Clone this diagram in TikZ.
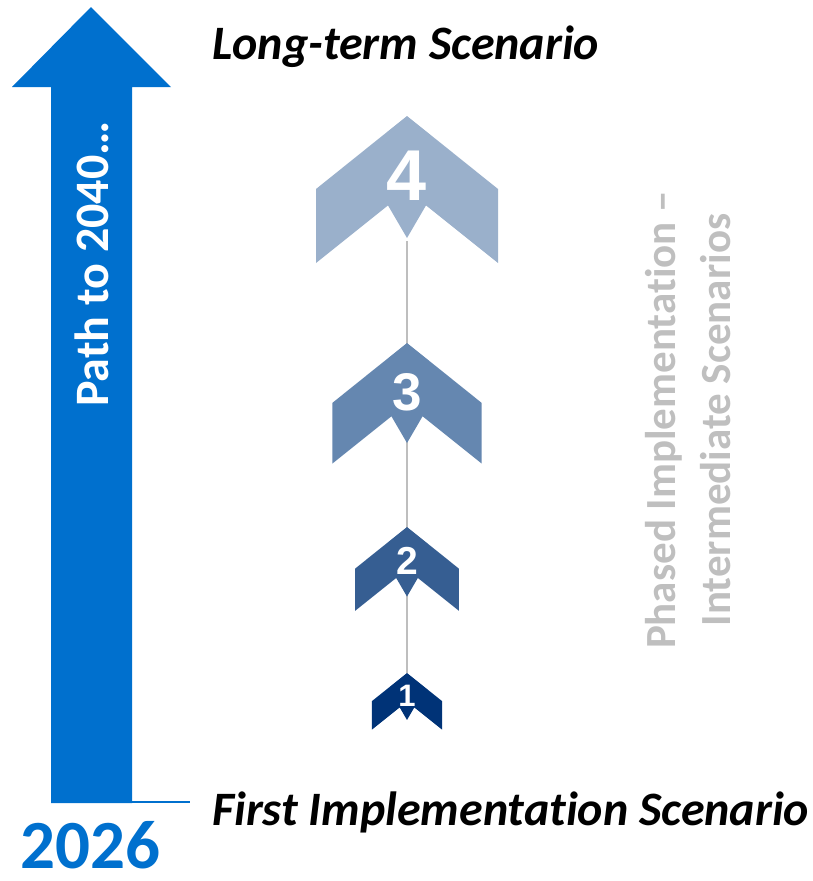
\documentclass[tikz,border=0pt]{standalone}
\usepackage{fontspec}
\setmainfont[Ligatures=NoCommon, RawFeature={-calt}]{Carlito}
\newfontfamily\numfont{Liberation Sans}

\definecolor{pathblue}{RGB}{0,112,206}
\definecolor{chevA}{RGB}{154,176,203}
\definecolor{chevB}{RGB}{101,135,176}
\definecolor{chevC}{RGB}{54,94,146}
\definecolor{chevD}{RGB}{0,51,119}
\definecolor{linegray}{RGB}{190,190,190}
\definecolor{textgray}{RGB}{191,191,191}

\tikzset{
  scenario/.style={inner sep=0pt, font=\fontsize{48}{48}\selectfont\bfseries\itshape},
  chevnum/.style={inner sep=0pt, text=white}
}

\begin{document}
\begin{tikzpicture}[x=1pt, y=-1pt]
 \useasboundingbox (0,0) rectangle (812,881);

 % big arrow on the left
 \fill[pathblue] (91,7)--(171,87)--(132,87)--(132,803)--(51,803)--(51,87)--(12,87)--cycle;
 \coordinate (foot) at (132,802);
 \coordinate (footend) at (190,802);
 \draw[pathblue, line width=1.5pt] (foot)--(footend);
 \node[rotate=90, inner sep=0pt, text=white, font=\fontsize{48}{48}\selectfont\bfseries] (path) at (92,264) {Path to 2040…};
 \node[inner sep=0pt, anchor=base, text=pathblue, font=\fontsize{69}{69}\selectfont\bfseries] (year) at (90,868) {2026};

 % scenario labels
 \node[scenario, anchor=base west] (longterm) at (212,59) {Long-term Scenario};
 \node[scenario, anchor=base west] (first) at (212,825) {First Implementation Scenario};

 % gray spine behind the chevrons
 \coordinate (spinetop) at (407,241);
 \coordinate (spinebot) at (407,673);
 \draw[linegray, line width=2pt] (spinetop)--(spinebot);

 % chevrons
 \foreach \n/\ty/\s/\col/\fs in {4/116/1/chevA/72, 3/343/0.82/chevB/53, 2/527/0.57/chevC/39, 1/673/0.385/chevD/31}{
   \begin{scope}[shift={(407,\ty)}, scale=\s]
     \fill[\col] (0,0)--(91,73)--(91,147)--(19,89.4)--(0,122)--(-19,89.4)--(-91,147)--(-91,73)--cycle;
   \end{scope}
   \node[chevnum, font=\fontsize{\fs}{\fs}\selectfont\numfont\bfseries] (num\n) at (407,\ty+60*\s) {\n};
 }

 % vertical note on the right
 \node[rotate=90, align=center, inner sep=0pt, text=textgray, font=\fontsize{43}{55}\selectfont\bfseries] (phased) at (688,420) {Phased Implementation –\\Intermediate Scenarios};
\end{tikzpicture}
\end{document}
